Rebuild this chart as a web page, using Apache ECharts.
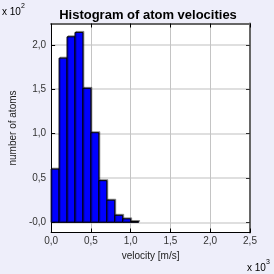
<!DOCTYPE html>
<html><head><meta charset="utf-8">
<script src="https://cdn.jsdelivr.net/npm/echarts@6/dist/echarts.min.js"></script>
<style>html,body{margin:0;padding:0;background:#EEEEFA}#c{width:274px;height:274px}</style>
</head><body><div id="c"></div>
<script>
// histogram bins (velocity in m/s) and counts
const binStart = [0, 100, 200, 300, 400, 500, 600, 700, 800, 900, 1000];
const binEnd   = [100, 200, 300, 400, 500, 600, 700, 800, 900, 1000, 1100];
const counts   = [60, 185, 209, 214, 151, 101, 47, 25, 8, 4, 1];
const xTicks = [0, 500, 1000, 1500, 2000, 2500];
const xTickLabels = ['0,0', '0,5', '1,0', '1,5', '2,0', '2,5'];
const yTicks = [0, 50, 100, 150, 200];
const yTickLabels = ['-0,0', '0,5', '1,0', '1,5', '2,0'];

const data = binStart.map((s, i) => [s, binEnd[i], counts[i]]);
const FONT = 'Liberation Sans, Arial, sans-serif';
const chart = echarts.init(document.getElementById('c'), null, {renderer: 'canvas'});
const lbl = (ticks, labels) => v => { const i = ticks.indexOf(v); return i >= 0 ? labels[i] : ''; };

chart.setOption({
  backgroundColor: '#EEEEFA',
  animation: false,
  title: {
    text: 'Histogram of atom velocities', left: 143, top: 4, textAlign: 'center',
    textStyle: {fontFamily: FONT, fontSize: 13, fontWeight: 'bold', color: '#000'}
  },
  grid: {left: 42, right: 24, top: 23.5, bottom: 41.5, show: true, backgroundColor: '#fff', borderWidth: 0},
  xAxis: [{
    type: 'value', min: 0, max: 2500, position: 'bottom',
    name: 'velocity [m/s]', nameLocation: 'middle', nameGap: 19,
    nameTextStyle: {fontFamily: FONT, fontSize: 10, color: '#222'},
    axisLine: {show: true, onZero: false, lineStyle: {color: '#000', width: 1}},
    axisTick: {show: true, inside: true, length: 4, customValues: xTicks, lineStyle: {color: '#000'}},
    axisLabel: {customValues: xTicks, formatter: lbl(xTicks, xTickLabels), margin: 4,
      fontFamily: FONT, fontSize: 10, color: '#333'},
    splitLine: {show: true, lineStyle: {color: '#c4c4c4', width: 1}}
  }, {
    type: 'value', min: 0, max: 2500, position: 'top',
    axisLine: {show: true, onZero: false, lineStyle: {color: '#666', width: 2}},
    axisTick: {show: true, inside: true, length: 4, customValues: xTicks, lineStyle: {color: '#000'}},
    axisLabel: {show: false}, splitLine: {show: false}
  }],
  yAxis: [{
    type: 'value', min: -11.4, max: 224, position: 'left',
    name: 'number of atoms', nameLocation: 'middle', nameGap: 25,
    nameTextStyle: {fontFamily: FONT, fontSize: 10, color: '#222'},
    axisLine: {show: true, onZero: false, lineStyle: {color: '#000', width: 1}},
    axisTick: {show: true, inside: true, length: 4, customValues: yTicks, lineStyle: {color: '#000'}},
    axisLabel: {customValues: yTicks, formatter: lbl(yTicks, yTickLabels), margin: 5,
      fontFamily: FONT, fontSize: 10, color: '#333'},
    splitLine: {show: true, lineStyle: {color: '#d4d4d4', width: 1.5}}
  }, {
    type: 'value', min: -11.4, max: 224, position: 'right',
    axisLine: {show: true, onZero: false, lineStyle: {color: '#666', width: 2}},
    axisTick: {show: true, inside: true, length: 4, customValues: yTicks, lineStyle: {color: '#333'}},
    axisLabel: {show: false}, splitLine: {show: false}
  }],
  series: [{
    type: 'custom',
    xAxisIndex: 0, yAxisIndex: 0,
    data: data,
    encode: {x: [0, 1], y: 2},
    renderItem: function (params, api) {
      const p0 = api.coord([api.value(0), api.value(2)]);
      const p1 = api.coord([api.value(1), 0]);
      return {
        type: 'rect',
        shape: {x: p0[0], y: p0[1], width: p1[0] - p0[0], height: p1[1] - p0[1]},
        style: {fill: '#0000FF', stroke: '#000', lineWidth: 1,
          shadowColor: 'rgba(0,0,0,0.35)', shadowOffsetX: 1, shadowOffsetY: -1, shadowBlur: 0}
      };
    }
  }],
  graphic: [
    {type: 'text', left: 2, top: 3, style: {
      text: '{a|x 10}{b|2}', rich: {a: {fontFamily: FONT, fontSize: 10, color: '#222', padding: [4, 0, 0, 0]}, b: {fontFamily: FONT, fontSize: 7, color: '#222', verticalAlign: 'top'}}}},
    {type: 'text', left: 247, top: 259, style: {
      text: '{a|x 10}{b|3}', rich: {a: {fontFamily: FONT, fontSize: 10, color: '#222', padding: [4, 0, 0, 0]}, b: {fontFamily: FONT, fontSize: 7, color: '#222', verticalAlign: 'top'}}}}
  ]
});
</script></body></html>
